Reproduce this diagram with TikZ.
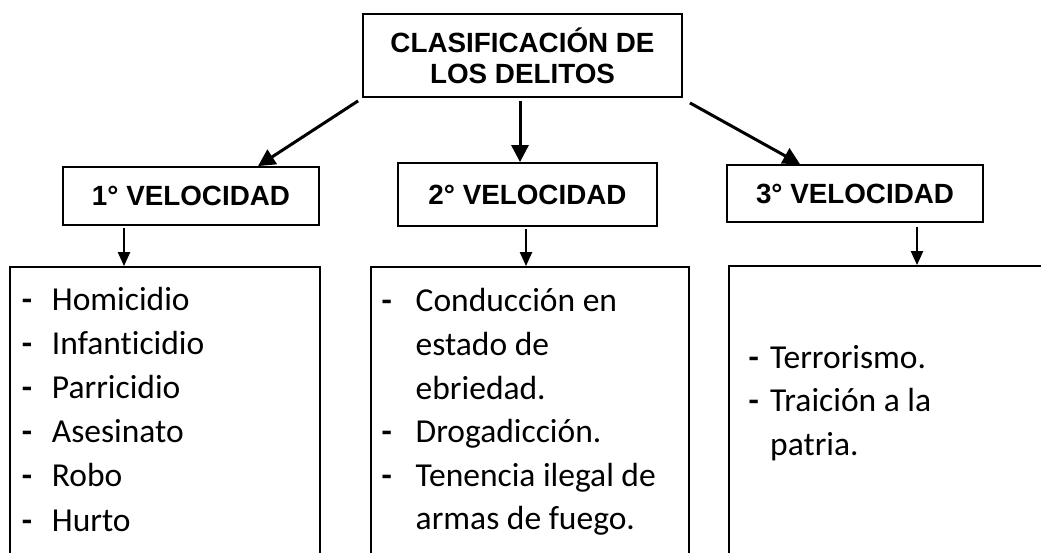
\documentclass[tikz,border=0pt]{standalone}
\usepackage{fontspec}
\setmainfont{Liberation Sans}
\newfontfamily\calfont[Ligatures=NoCommon]{Carlito}
\usetikzlibrary{arrows.meta}
\newcommand{\dsh}[1]{\makebox[#1][l]{\bfseries -}}
\tikzset{
  titlebox/.style={draw, line width=1.8pt, inner sep=0pt, align=center,
    font=\fontsize{27.8}{31}\selectfont\bfseries},
  listbox/.style={draw, line width=1.8pt, inner sep=0pt},
  item/.style={anchor=base west, inner sep=0pt, font=\calfont\fontsize{33.5}{44}\selectfont},
  bigarr/.style={line width=3pt, -{Triangle[length=17pt,width=17pt]}},
  smallarr/.style={line width=2.2pt, -{Triangle[length=14pt,width=12pt]}}
}
\begin{document}
\begin{tikzpicture}[x=1pt,y=-1pt]
\clip (0,0) rectangle (1041,553);
\fill[white] (0,0) rectangle (1041,553);
% title boxes
\node[titlebox, minimum width=319pt, minimum height=83pt] (top) at (522.5,55.5)
  {CLASIFICACIÓN DE\\LOS DELITOS};
\node[titlebox, minimum width=256pt, minimum height=58pt] (b1) at (191,196) {1° VELOCIDAD};
\node[titlebox, minimum width=259pt, minimum height=63pt] (b2) at (527.5,194.5) {2° VELOCIDAD};
\node[titlebox, minimum width=256pt, minimum height=57pt] (b3) at (855,193.5) {3° VELOCIDAD};
% list boxes (open at bottom: extend past the page)
\node[listbox, minimum width=310pt, minimum height=400pt] (l1) at (165,467) {};
\node[listbox, minimum width=318pt, minimum height=400pt] (l2) at (530,467) {};
\node[listbox, minimum width=371pt, minimum height=400pt] (l3) at (914.5,466) {};
% arrows
\draw[bigarr] ([shift={(-4pt,-3pt)}]top.south west) -- ([xshift=67pt]b1.north);
\draw[bigarr] ([xshift=-2.5pt,yshift=-3pt]top.south) -- ([xshift=-2.5pt]top.south |- b2.north);
\draw[bigarr] ([shift={(7pt,-5pt)}]top.south east) -- ([xshift=-55pt]b3.north);
\draw[smallarr] ([xshift=-67pt,yshift=-2pt]b1.south) -- ([xshift=-67pt]b1.south |- l1.north);
\draw[smallarr] ([xshift=-1.5pt,yshift=-2pt]b2.south) -- ([xshift=-1.5pt]b2.south |- l2.north);
\draw[smallarr] ([xshift=62pt,yshift=-4pt]b3.south) -- ([xshift=62pt]b3.south |- l3.north);
% list 1
\foreach \t [count=\i] in {Homicidio,Infanticidio,Parricidio,Asesinato,Robo,Hurto}{
  \node[item] (i1-\i) at (21.7,{310+44.2*(\i-1)}) {\dsh{30pt}\t};
}
% list 2
\node[item] (i2-1) at (381.5,312) {\dsh{34pt}Conducción en};
\node[item] (i2-2) at (415.5,355.5) {estado de};
\node[item] (i2-3) at (415.5,399) {ebriedad.};
\node[item] (i2-4) at (381.5,442.5) {\dsh{34pt}Drogadicción.};
\node[item] (i2-5) at (381.5,486) {\dsh{34pt}Tenencia ilegal de};
\node[item] (i2-6) at (415.5,529.5) {armas de fuego.};
% list 3
\node[item] (i3-1) at (748.4,368) {\dsh{21.6pt}Terrorismo.};
\node[item] (i3-2) at (748.4,411.5) {\dsh{21.6pt}Traición a la};
\node[item] (i3-3) at (770,455) {patria.};
\end{tikzpicture}
\end{document}
